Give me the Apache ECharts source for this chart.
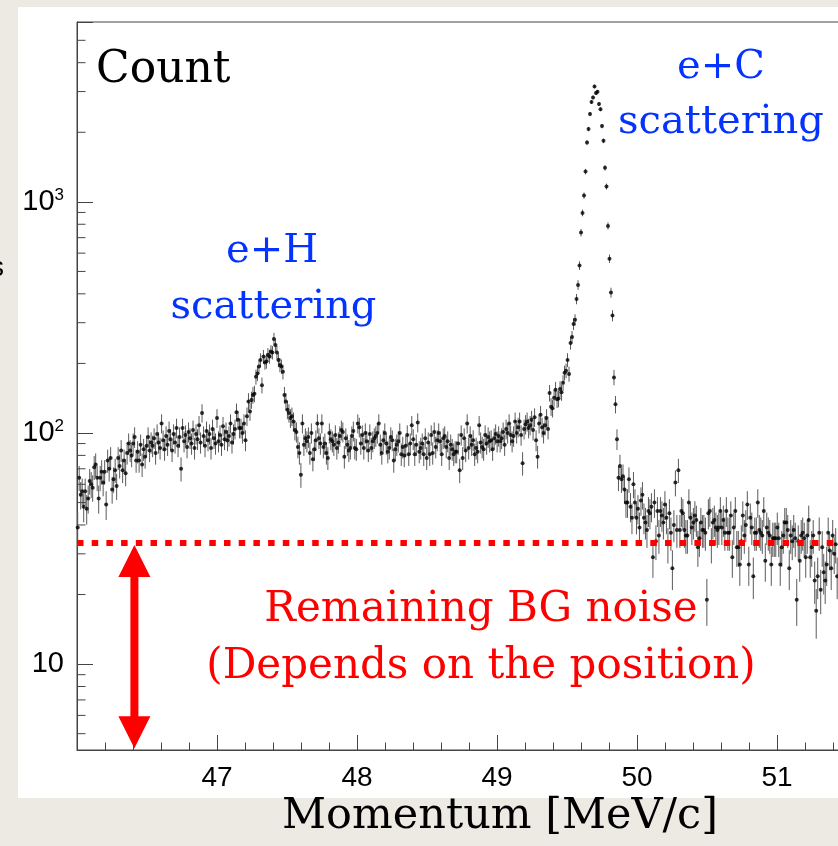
<!DOCTYPE html>
<html>
<head>
<meta charset="utf-8">
<script src="https://cdn.jsdelivr.net/npm/echarts@6/dist/echarts.min.js"></script>
<style>
html,body{margin:0;padding:0;background:#edeae3;}
#chart{width:838px;height:846px;}
</style>
</head>
<body>
<div id="chart"></div>
<script>
// ---- binning (momentum in MeV/c) ----
const binStart = 46.005;
const binWidth = 0.0107;

// ---- counts per bin, left to right ----
const countsRise = [
  39, 64, 54, 56, 48, 56, 47, 52, 62, 60,
  58, 71, 73, 64, 52, 64, 68, 61, 68, 49,
  76, 70, 78, 57, 63, 69, 59, 78, 72, 84,
  69, 76, 67, 82, 90, 84, 80, 90, 96, 76,
  83, 76, 89, 73, 85, 79, 88, 96, 84, 91
];
const countsPlateau = [
  88, 95, 82, 99, 91, 86, 110, 93, 85, 97,
  89, 102, 94, 84, 99, 91, 105, 88, 96, 70,
  105, 92, 98, 87, 101, 95, 90, 103, 86, 99,
  94, 108, 91, 122, 97, 88, 102, 93, 99, 86,
  104, 95, 90, 116, 92, 98, 89, 107, 94, 101,
  93, 97, 110, 91, 99, 104,
  123, 114, 105, 105, 100, 110, 93, 118
];
const countsHPeak = [
  137, 124, 139, 146, 148, 175, 181, 194, 207, 161,
  214, 202, 204, 218, 214, 225, 223, 255, 240, 223,
  207, 197, 194, 184, 146, 137, 126, 122, 116, 118,
  112, 103, 101, 87, 82, 66
];
const countsFlat = [
  110, 89, 95, 92, 96, 82, 100, 77, 85, 93,
  110, 95, 90, 110, 87, 90, 82, 78, 100, 94,
  92, 89, 98, 86, 91, 97, 103, 101, 79, 95,
  89, 84, 86, 97, 102, 86, 85, 110, 106, 90,
  98, 86, 100, 92, 84, 99, 86, 92, 95, 97,
  100, 110, 89, 82, 93, 100, 90, 83, 86, 96,
  93, 76, 85, 89, 92, 100, 81, 87, 80, 88,
  98, 81, 90, 108, 94, 81, 89, 111, 83, 86,
  90, 81, 95, 78, 91, 81, 98, 82, 101, 87,
  93, 100, 92, 81, 95, 97, 87, 92, 78, 89,
  85, 81, 83, 83, 90, 69, 98, 78, 95, 84,
  110, 86, 97, 89, 93, 81, 86, 83, 108, 91,
  87, 85, 98, 90, 96, 92, 93, 85, 95, 99,
  92, 97, 92, 95, 101, 89, 104, 100, 110, 98,
  92, 97, 112, 100, 106, 112, 98, 74, 104, 109,
  112, 105, 108, 114, 103, 117, 93, 79, 110,
  120, 106, 100, 108, 116, 104, 149, 130, 128, 142,
  154, 140, 141, 155, 150, 165, 182, 186
];
const countsCPeak = [
  207, 180, 245, 260, 296, 309, 380, 437, 530, 736,
  896, 1065, 1352, 1806, 2064, 2398, 2701, 2829, 3157, 2955,
  2994, 2649, 2518, 2127, 1837, 1404, 1165, 787, 568, 405,
  322, 174, 133, 94, 64, 72
];
const countsTail = [
  63, 65, 57, 50, 50, 63, 48, 43, 60, 50,
  43, 47, 39, 51, 54, 43, 41, 38, 46, 45,
  48, 29, 50, 34, 46, 36, 46, 44, 41, 49,
  43, 33, 45, 37, 26, 40, 61, 38, 69, 38,
  46, 45, 38, 36, 36, 50, 43, 39, 41, 44,
  42, 32, 35, 41, 38, 38, 37, 19, 45, 46,
  33, 41, 42, 39, 38, 39, 46, 39, 42, 37,
  46, 37, 37, 44, 29, 39, 46, 32, 32, 27,
  34, 44, 36, 40, 49, 27, 43, 39, 24, 37,
  37, 50, 38, 37, 36, 46, 28, 39, 37, 36,
  27, 35, 35, 35, 39, 35, 27, 32, 36, 41,
  41, 38, 26, 36, 34, 38, 35, 19, 34, 28,
  36, 37, 35, 29, 36, 42, 29, 32, 36, 23,
  17, 24, 37, 21, 32, 25, 23, 27, 37, 31,
  26, 36, 30, 33, 24
];

// ---- axes ----
const xMin = 46, xMax = 52, xStep = 1;
const yMin = 4.25, yMax = 6000;
const yMinorTicks = [5, 6, 7, 8, 9, 20, 30, 40, 50, 60, 70, 80, 90,
                     200, 300, 400, 500, 600, 700, 800, 900, 2000, 3000, 4000, 5000];

// ---- annotations ----
const bgLevel = 33.4;          // remaining background level
const arrowX = 46.41;
const arrowTop = 32.8;
const arrowBottom = 4.32;
const labelCount = 'Count';
const labelC = ['e+C', 'scattering'];
const labelH = ['e+H', 'scattering'];
const labelBG = ['Remaining BG noise', '(Depends on the position)'];
const xTitle = 'Momentum [MeV/c]';

const counts = [].concat(countsRise, countsPlateau, countsHPeak, countsFlat, countsCPeak, countsTail);
const points = counts.map((c, i) => [+(binStart + i * binWidth).toFixed(4), c]);

const serif = '"DejaVu Serif", "Liberation Serif", serif';
const sans = '"Liberation Sans", Arial, sans-serif';

const chart = echarts.init(document.getElementById('chart'), null, {renderer: 'canvas'});

function isPow10(v) {
  const l = Math.log10(v);
  return Math.abs(l - Math.round(l)) < 1e-6;
}

const option = {
  backgroundColor: '#edeae3',
  animation: false,
  grid: {
    left: 77, top: 22, width: 840, height: 728,
    containLabel: false, outerBoundsMode: 'none',
    show: true, borderColor: '#444', borderWidth: 1, backgroundColor: 'transparent'
  },
  xAxis: {
    type: 'value', min: xMin, max: xMax, interval: xStep,
    axisLine: {show: true, lineStyle: {color: '#444', width: 1}},
    axisTick: {show: true, inside: true, length: 15, lineStyle: {color: '#444'}},
    minorTick: {show: true, splitNumber: 5, length: 7.5, lineStyle: {color: '#444'}},
    splitLine: {show: false},
    axisLabel: {
      margin: 14, color: '#000', fontFamily: sans, fontSize: 28,
      formatter: v => (v > xMin + 0.01 && v < xMax - 0.01) ? String(v) : ''
    }
  },
  yAxis: {
    type: 'log', logBase: 10, min: yMin, max: yMax,
    axisLine: {show: true, lineStyle: {color: '#444', width: 1}},
    axisTick: {show: true, inside: true, length: 16, lineStyle: {color: '#444'}},
    splitLine: {show: false},
    axisLabel: {
      margin: 13, color: '#000', fontFamily: sans, fontSize: 29, lineHeight: 30,
      formatter: v => {
        if (!isPow10(v)) return '';
        const e = Math.round(Math.log10(v));
        if (e === 1) return '10';
        return '10{s|' + e + '}';
      },
      rich: {s: {fontSize: 17, fontFamily: sans, color: '#000', verticalAlign: 'top', lineHeight: 17}}
    }
  },
  graphic: [
    {type: 'rect', z: -1, shape: {x: 18, y: 7, width: 830, height: 791}, style: {fill: '#ffffff'}},
    {type: 'text', z: 100, x: -10, y: 268, style: {text: 's', font: '28px ' + sans, fill: '#000', verticalAlign: 'middle'}},
    {type: 'text', z: 100, x: 96, y: 70.8, style: {text: labelCount, font: '44px ' + serif, fill: '#000', align: 'left', verticalAlign: 'middle'}},
    {type: 'text', z: 100, x: 721, y: 67.9, style: {text: labelC[0], font: '40px ' + serif, fill: '#0433ff', align: 'center', verticalAlign: 'middle'}},
    {type: 'text', z: 100, x: 721, y: 122.9, style: {text: labelC[1], font: '40px ' + serif, fill: '#0433ff', align: 'center', verticalAlign: 'middle'}},
    {type: 'text', z: 100, x: 272, y: 251.9, style: {text: labelH[0], font: '40px ' + serif, fill: '#0433ff', align: 'center', verticalAlign: 'middle'}},
    {type: 'text', z: 100, x: 273.5, y: 307.9, style: {text: labelH[1], font: '40px ' + serif, fill: '#0433ff', align: 'center', verticalAlign: 'middle'}},
    {type: 'text', z: 100, x: 481, y: 610.5, style: {text: labelBG[0], font: '42px ' + serif, fill: '#ff0000', align: 'center', verticalAlign: 'middle'}},
    {type: 'text', z: 100, x: 481, y: 667.5, style: {text: labelBG[1], font: '42px ' + serif, fill: '#ff0000', align: 'center', verticalAlign: 'middle'}},
    {type: 'text', z: 100, x: 500, y: 817, style: {text: xTitle, font: '43px ' + serif, fill: '#000', align: 'center', verticalAlign: 'middle'}}
  ],
  series: [
    {
      // error bars (sqrt(N))
      type: 'custom', z: 3, clip: true,
      data: points,
      encode: {x: 0, y: 1},
      renderItem: (params, api) => {
        const x = api.value(0), v = api.value(1), e = Math.sqrt(v);
        const p1 = api.coord([x, v + e]);
        const p2 = api.coord([x, Math.max(v - e, yMin)]);
        return {type: 'line', shape: {x1: p1[0], y1: p1[1], x2: p2[0], y2: p2[1]},
                style: {stroke: '#5a5a5a', lineWidth: 1}};
      }
    },
    {
      type: 'scatter', z: 4, data: points, symbol: 'circle', symbolSize: 4,
      itemStyle: {color: '#000'}, silent: true
    },
    {
      // y minor ticks (log spaced)
      type: 'custom', z: 5, clip: false,
      data: yMinorTicks.map(v => [xMin, v]),
      encode: {x: 0, y: 1},
      renderItem: (params, api) => {
        const p = api.coord([api.value(0), api.value(1)]);
        return {type: 'line', shape: {x1: p[0], y1: p[1], x2: p[0] + 8.5, y2: p[1]},
                style: {stroke: '#444', lineWidth: 1}};
      }
    },
    {
      // BG level dashed line + double arrow
      type: 'custom', z: 10, clip: false,
      data: [[arrowX, bgLevel]],
      encode: {x: 0, y: 1},
      renderItem: (params, api) => {
        const l0 = api.coord([xMin, bgLevel]);
        const l1 = api.coord([xMax, bgLevel]);
        const t = api.coord([arrowX, arrowTop]);
        const b = api.coord([arrowX, arrowBottom]);
        const cx = t[0], hw = 16, hh = 32, sw = 4;
        return {
          type: 'group',
          children: [
            {type: 'line', shape: {x1: l0[0], y1: l0[1], x2: l1[0], y2: l1[1]},
             style: {stroke: '#ff0000', lineWidth: 6, lineDash: [6.5, 8.2], lineCap: 'butt'}},
            {type: 'polygon', shape: {points: [
              [cx, t[1]], [cx + hw, t[1] + hh], [cx + sw, t[1] + hh], [cx + sw, b[1] - hh],
              [cx + hw, b[1] - hh], [cx, b[1]], [cx - hw, b[1] - hh], [cx - sw, b[1] - hh],
              [cx - sw, t[1] + hh], [cx - hw, t[1] + hh]
            ]}, style: {fill: '#ff0000'}}
          ]
        };
      }
    }
  ]
};
chart.setOption(option);
</script>
</body>
</html>
